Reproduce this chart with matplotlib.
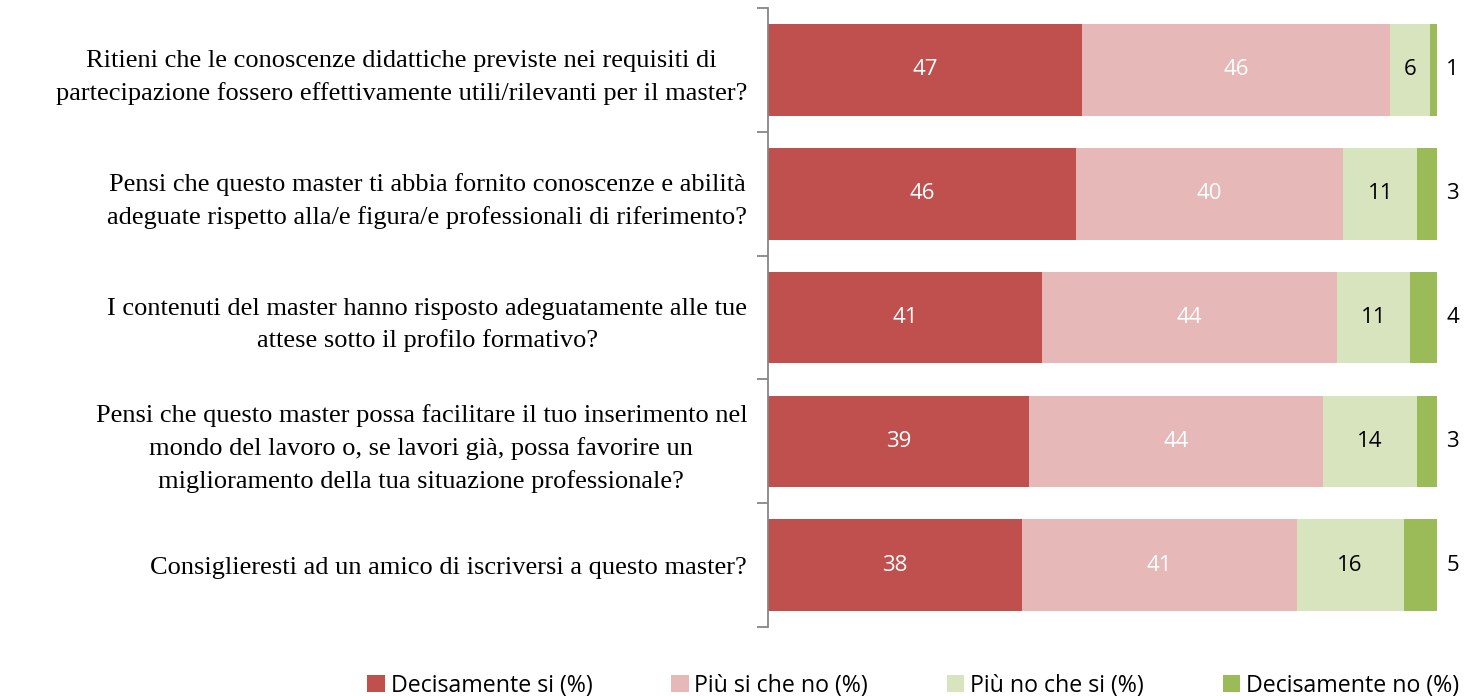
import numpy as np
import matplotlib.pyplot as plt

questions = [
    'Ritieni che le conoscenze didattiche previste nei requisiti di\npartecipazione fossero effettivamente utili/rilevanti per il master?',
    'Pensi che questo master ti abbia fornito conoscenze e abilità\nadeguate rispetto alla/e figura/e professionali di riferimento?',
    'I contenuti del master hanno risposto adeguatamente alle tue\nattese sotto il profilo formativo?',
    'Pensi che questo master possa facilitare il tuo inserimento nel\nmondo del lavoro o, se lavori già, possa favorire un\nmiglioramento della tua situazione professionale?',
    'Consiglieresti ad un amico di iscriversi a questo master?',
]
series_names = ['Decisamente si (%)', 'Più si che no (%)', 'Più no che si (%)', 'Decisamente no (%)']
decisamente_si = [47, 46, 41, 39, 38]
piu_si = [46, 40, 44, 44, 41]
piu_no = [6, 11, 11, 14, 16]
decisamente_no = [1, 3, 4, 3, 5]

colors = ['#C0504D', '#E6B9B8', '#D7E4BD', '#9BBB59']
text_colors = ['white', 'white', 'black', 'black']

fig = plt.figure(figsize=(14.73, 6.96), dpi=100)
ax = fig.add_axes([0.5214, 0.0991, 0.4542, 0.8894])

y = np.arange(len(questions))
left = np.zeros(len(questions))
for i, vals in enumerate([decisamente_si, piu_si, piu_no, decisamente_no]):
    vals = np.array(vals, dtype=float)
    ax.barh(y, vals, left=left, height=0.74, color=colors[i], label=series_names[i])
    for j, v in enumerate(vals):
        if i < 3:
            ax.text(left[j] + v / 2, y[j], f'{int(v)}', ha='center', va='center',
                    color=text_colors[i], fontsize=16, family='Open Sans')
        else:
            ax.text(102.3, y[j], f'{int(v)}', ha='center', va='center',
                    color='black', fontsize=16, family='Open Sans', clip_on=False)
    left += vals

ax.set_xlim(0, 100)
ax.set_ylim(len(questions) - 0.5, -0.5)
ax.set_yticks(y)
ax.set_yticklabels(questions, fontsize=19, family='Liberation Serif',
                   multialignment='center', linespacing=1.55)
ax.tick_params(axis='y', which='major', length=0, pad=15)
ax.set_yticks(np.arange(-0.5, len(questions)), minor=True)
ax.tick_params(axis='y', which='minor', length=8, color='#868686', width=1.3)
ax.set_xticks([])
for s in ['top', 'right', 'bottom']:
    ax.spines[s].set_visible(False)
ax.spines['left'].set_color('#868686')
ax.spines['left'].set_linewidth(1.3)

fig.legend(loc='center', bbox_to_anchor=(0.62, 0.015), ncol=4, frameon=False,
           prop={'family': 'Open Sans', 'size': 16.7}, handlelength=0.75, handleheight=0.75,
           handletextpad=0.25, columnspacing=3.4)

fig.savefig('out.png', dpi=100)
